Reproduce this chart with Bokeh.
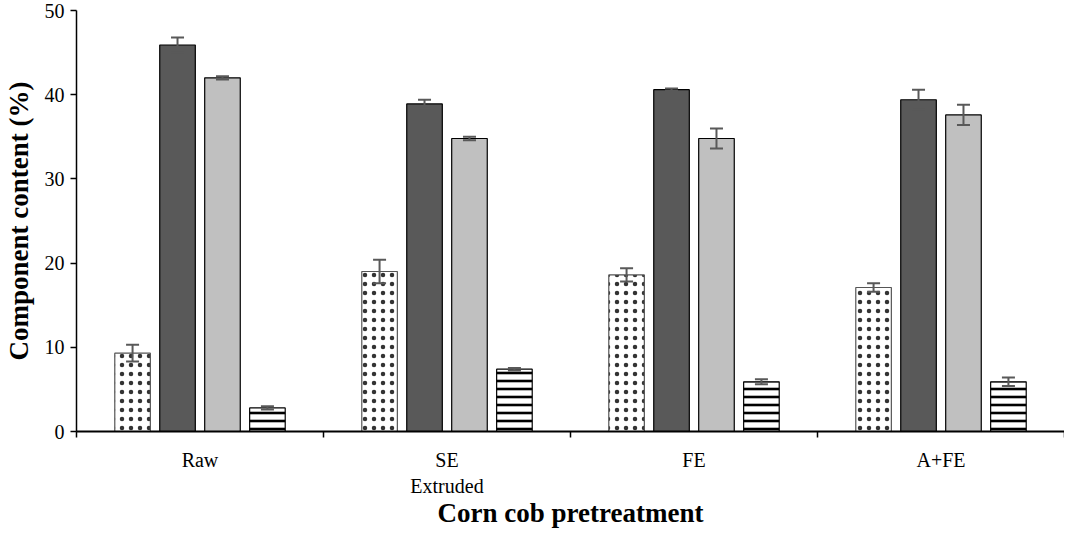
from bokeh.plotting import figure
from bokeh.models import ColumnDataSource, FixedTicker, Whisker, TeeHead, Range1d
from bokeh.embed import file_html
from bokeh.resources import INLINE

# ---- data ----
groups = ["Raw", "SE\nExtruded", "FE", "A+FE"]
comp_dot = [9.3, 19.0, 18.6, 17.1]
err_dot = [1.0, 1.4, 0.8, 0.5]
comp_dark = [45.9, 38.9, 40.6, 39.4]
err_dark = [0.9, 0.5, 0.15, 1.2]
comp_light = [42.0, 34.8, 34.8, 37.6]
err_light = [0.2, 0.2, 1.2, 1.2]
comp_stripe = [2.8, 7.4, 5.9, 5.9]
err_stripe = [0.2, 0.15, 0.3, 0.5]
y_ticks = [0, 10, 20, 30, 40, 50]

SERIF = "Liberation Serif"

p = figure(width=1064, height=530, output_backend="svg", toolbar_location=None,
           x_range=Range1d(0, 4), y_range=Range1d(0, 50),
           min_border_left=76, min_border_right=0, min_border_top=10, min_border_bottom=97)
p.outline_line_color = None
p.xgrid.visible = False
p.ygrid.visible = False
p.background_fill_color = "white"
p.border_fill_color = "white"

pitch = 0.182
bw = 0.144
centers = [i + 0.5 for i in range(len(groups))]

series = [
    (comp_dot, err_dot, dict(fill_color="white", hatch_pattern="dot", hatch_color="#333333",
                             hatch_scale=9, hatch_weight=0.8, line_color="#555555")),
    (comp_dark, err_dark, dict(fill_color="#595959", line_color="black")),
    (comp_light, err_light, dict(fill_color="#c0c0c0", line_color="black")),
    (comp_stripe, err_stripe, dict(fill_color="white", hatch_pattern="horizontal_line", hatch_color="black",
                                   hatch_scale=8, hatch_weight=2.6, line_color="black")),
]

for k, (vals, errs, style) in enumerate(series):
    xs = [c + (k - 1.5) * pitch for c in centers]
    src = ColumnDataSource(dict(x=xs, top=vals,
                                upper=[v + e for v, e in zip(vals, errs)],
                                lower=[v - e for v, e in zip(vals, errs)]))
    p.vbar(x="x", top="top", bottom=0, width=bw, source=src, line_width=1.2, **style)
    w = Whisker(base="x", upper="upper", lower="lower", source=src,
                line_color="#595959", line_width=2, level="annotation",
                upper_head=TeeHead(size=13, line_color="#595959", line_width=2),
                lower_head=TeeHead(size=13, line_color="#595959", line_width=2))
    p.add_layout(w)

# x axis
p.xaxis.ticker = FixedTicker(ticks=centers, minor_ticks=[0, 1, 2, 3, 4])
p.xaxis.major_label_overrides = {c: g for c, g in zip(centers, groups)}
p.xaxis.major_tick_out = 0
p.xaxis.major_tick_in = 0
p.xaxis.minor_tick_out = 6
p.xaxis.minor_tick_in = 0
p.xaxis.minor_tick_line_color = "black"
p.xaxis.axis_line_color = "black"
p.xaxis.axis_line_width = 2
p.xaxis.minor_tick_line_width = 1.5
p.xaxis.major_label_text_font = SERIF
p.xaxis.major_label_text_font_size = "20px"
p.xaxis.major_label_text_color = "black"
p.xaxis.major_label_standoff = 11
p.xaxis.axis_label = "Corn cob pretreatment"
p.xaxis.axis_label_text_font = SERIF
p.xaxis.axis_label_text_font_style = "bold"
p.xaxis.axis_label_text_font_size = "27px"
p.xaxis.axis_label_text_color = "black"
p.xaxis.axis_label_standoff = -2

# y axis
p.yaxis.ticker = FixedTicker(ticks=y_ticks, minor_ticks=[])
p.yaxis.major_tick_out = 6
p.yaxis.major_tick_in = 0
p.yaxis.axis_line_width = 1.5
p.yaxis.major_tick_line_width = 1.5
p.yaxis.major_label_text_font = SERIF
p.yaxis.major_label_text_font_size = "20px"
p.yaxis.major_label_text_color = "black"
p.yaxis.major_label_standoff = 6
p.yaxis.axis_label = "Component content (%)"
p.yaxis.axis_label_text_font = SERIF
p.yaxis.axis_label_text_font_style = "bold"
p.yaxis.axis_label_text_font_size = "27px"
p.yaxis.axis_label_text_color = "black"
p.yaxis.axis_label_standoff = 8

open("out.html", "w").write(file_html(p, INLINE))
